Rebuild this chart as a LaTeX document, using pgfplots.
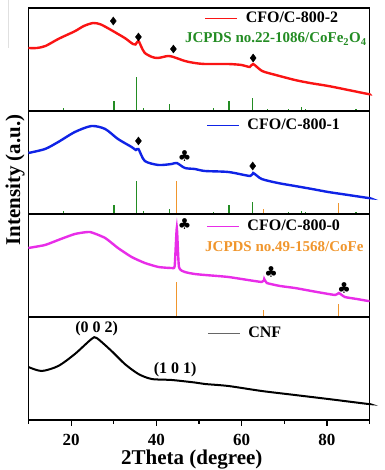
\documentclass[border=0pt]{standalone}
\usepackage{fontspec}
\setmainfont{Liberation Serif}
\newfontfamily\djv{DejaVu Sans}
\usepackage{pgfplots}
\pgfplotsset{compat=1.18}
\definecolor{cred}{RGB}{250,20,20}
\definecolor{cblue}{RGB}{15,35,230}
\definecolor{cmag}{RGB}{232,45,232}
\definecolor{cgreen}{RGB}{35,140,35}
\definecolor{corange}{RGB}{240,150,45}
\pgfplotsset{
  panel/.style={width=341.2pt, height=103pt, scale only axis,
    xmin=10, xmax=90, ymin=0, ymax=103, xtick=\empty, ytick=\empty,
    clip=false, axis line style={line width=1.1pt},
    legend style={draw=none, fill=none, inner sep=0pt, outer sep=0pt,
      font=\bfseries\fontsize{16}{16}\selectfont,
      nodes={inner sep=0pt, outer sep=0pt}, column sep=8pt},
    legend image code/.code={\draw[#1, line width=0.8pt] (0pt,0pt) -- (32pt,0pt);},
    legend cell align=left},
  curve/.style={line width=2.4pt, smooth, tension=0.45},
  stick/.style={ycomb, line width=1.3pt, mark=none},
  diam/.style={only marks, mark=diamond*, mark size=4pt, black},
  club/.style={only marks, mark=text, text mark={\djv\fontsize{15}{15}\selectfont ♣}, black},
}
\begin{document}
\begin{tikzpicture}
\path[use as bounding box] (-28.4pt,-50pt) rectangle (355.6pt,420pt);
\draw[black!12, line width=0.6pt] (-20.4pt,420pt) -- (-20.4pt,372pt);
% ---------- panel 1 ----------
\begin{axis}[panel, at={(0pt,309pt)}, legend style={at={(axis cs:51.4,93)}, anchor=west}]
\addplot[curve, cred] coordinates {
(10,63)(12,63)(14,65)(17,72)(19,76)(21,80)(23,85)(25.2,88)(27,86.5)(29.6,80.5)(31,77)(32.6,73)
(34.5,67)(35.1,66.5)(35.8,70)(36.5,64)(37.3,58)(39,54)(40.4,53)(42.7,55)(44,54)(46.7,50)
(49,48)(51.4,47)(56.8,47)(60,46)(61.9,44)(62.7,47)(64.8,40)(68,36)(72.5,31)(76,28)(80.3,25)
(85,21)(89.6,17)(90,17)};
\addplot[stick, cgreen] coordinates {
(18.2,3)(30.1,10)(35.4,34)(37.0,3)(43.1,7)(53.4,3)(57.0,10)(62.6,13)(66.0,1.5)(71.0,2)
(74.1,3.5)(75.0,1.5)(86.8,2)};
\addplot[diam] coordinates {(29.9,90)(35.8,74)(44.0,62)(62.7,53)};
\legend{CFO/C-800-2}
\node[anchor=west, inner sep=0pt, text=cgreen, font=\bfseries\fontsize{15}{15}\selectfont]
  at (axis cs:46.7,72) {JCPDS no.22-1086/CoFe\textsubscript{2}O\textsubscript{4}};
\end{axis}
% ---------- panel 2 ----------
\begin{axis}[panel, at={(0pt,206pt)}, legend style={at={(axis cs:51.8,89)}, anchor=west}]
\addplot[curve, cblue] coordinates {
(10,61)(13.9,65)(17,72)(20.9,82)(24.8,88)(28,85)(31,75)(34.2,67)(35.2,64)(35.8,65)
(37.3,53)(40.5,49)(43.6,50)(44.8,51)(46.7,46)(49,45)(51.4,43)(56.9,42)(62,38)(62.7,41)
(64.7,35)(68.5,31)(72.5,28)(76.5,25)(80.3,22)(85,19)(89.7,16)(90,16)};
\addplot[stick, cgreen] coordinates {
(18.2,2.5)(30.1,9)(35.4,33)(37.0,3)(43.1,5)(53.4,2)(57.0,9)(62.6,12)(71.0,2)
(74.1,3)(75.0,1.5)(86.8,2)};
\addplot[stick, corange] coordinates {(44.8,33)(65.2,5)(82.7,11)};
\addplot[diam] coordinates {(35.8,73)(62.6,48)};
\addplot[club] coordinates {(46.6,58)};
\legend{CFO/C-800-1}
\node[rotate=90, font=\bfseries\fontsize{21}{21}\selectfont] at (axis cs:6.86,34) {Intensity (a.u.)};
\end{axis}
% ---------- panel 3 ----------
\begin{axis}[panel, at={(0pt,103pt)}, legend style={at={(axis cs:51.8,91)}, anchor=west}]
\addplot[curve, cmag, tension=0.3] coordinates {
(10,69)(13.9,72)(17,77)(20.9,83)(24.4,85)(28,79)(31,69)(34.2,60)(37.3,54)(40.5,50)
(43.6,49)(44.3,51)(44.8,89)(45.3,50)(46.7,45)(49,43)(51.4,42)(56.9,40)(64.7,35)(65.3,38)
(65.9,34)(69,31)(72.5,29)(77,25.5)(81.9,22)(82.8,24)(84.2,20)(87,18)(89.7,16)(90,16)};
\addplot[stick, corange] coordinates {(44.8,35)(65.2,7)(82.7,13)};
\addplot[club] coordinates {(46.6,93)(66.9,45)(84.0,29)};
\legend{CFO/C-800-0}
\node[anchor=west, inner sep=0pt, text=corange, font=\bfseries\fontsize{15}{15}\selectfont]
  at (axis cs:51.4,70) {JCPDS no.49-1568/CoFe};
\end{axis}
% ---------- panel 4 ----------
\begin{axis}[panel, at={(0pt,0pt)}, legend style={at={(axis cs:52,87)}, anchor=west},
  xtick={20,40,60,80}, minor xtick={10,30,50,70,90}, xtick pos=bottom, tick align=outside,
  major tick length=6pt, minor tick length=4pt, tick style={line width=1.1pt, black},
  /pgf/number format/assume math mode=true,
  xticklabel style={font=\bfseries\fontsize{17}{17}\selectfont, inner sep=0pt, yshift=-7.5pt},
  legend image code/.code={\draw[black!60, line width=0.8pt] (0pt,0pt) -- (32pt,0pt);}]
\addplot[curve, black, line width=2pt] coordinates {
(10,53)(13.1,49)(17,54)(20.9,66)(24.8,81)(26,82)(29.5,69)(32.6,56)(35.8,46)(38.9,41)
(43.6,40)(49,37.5)(51.4,36)(56.9,34)(64.7,29)(72.5,25)(80.3,21)(85,18.5)(89.7,16)(90,16)};
\legend{CNF}
\node[font=\bfseries\fontsize{16}{16}\selectfont] at (axis cs:26,91) {(0 0 2)};
\node[font=\bfseries\fontsize{16}{16}\selectfont] at (axis cs:44.4,50) {(1 0 1)};
\node[inner sep=0pt, font=\bfseries\fontsize{21}{21}\selectfont] at (axis cs:48.3,-40) {2Theta (degree)};
\end{axis}
\end{tikzpicture}
\end{document}
